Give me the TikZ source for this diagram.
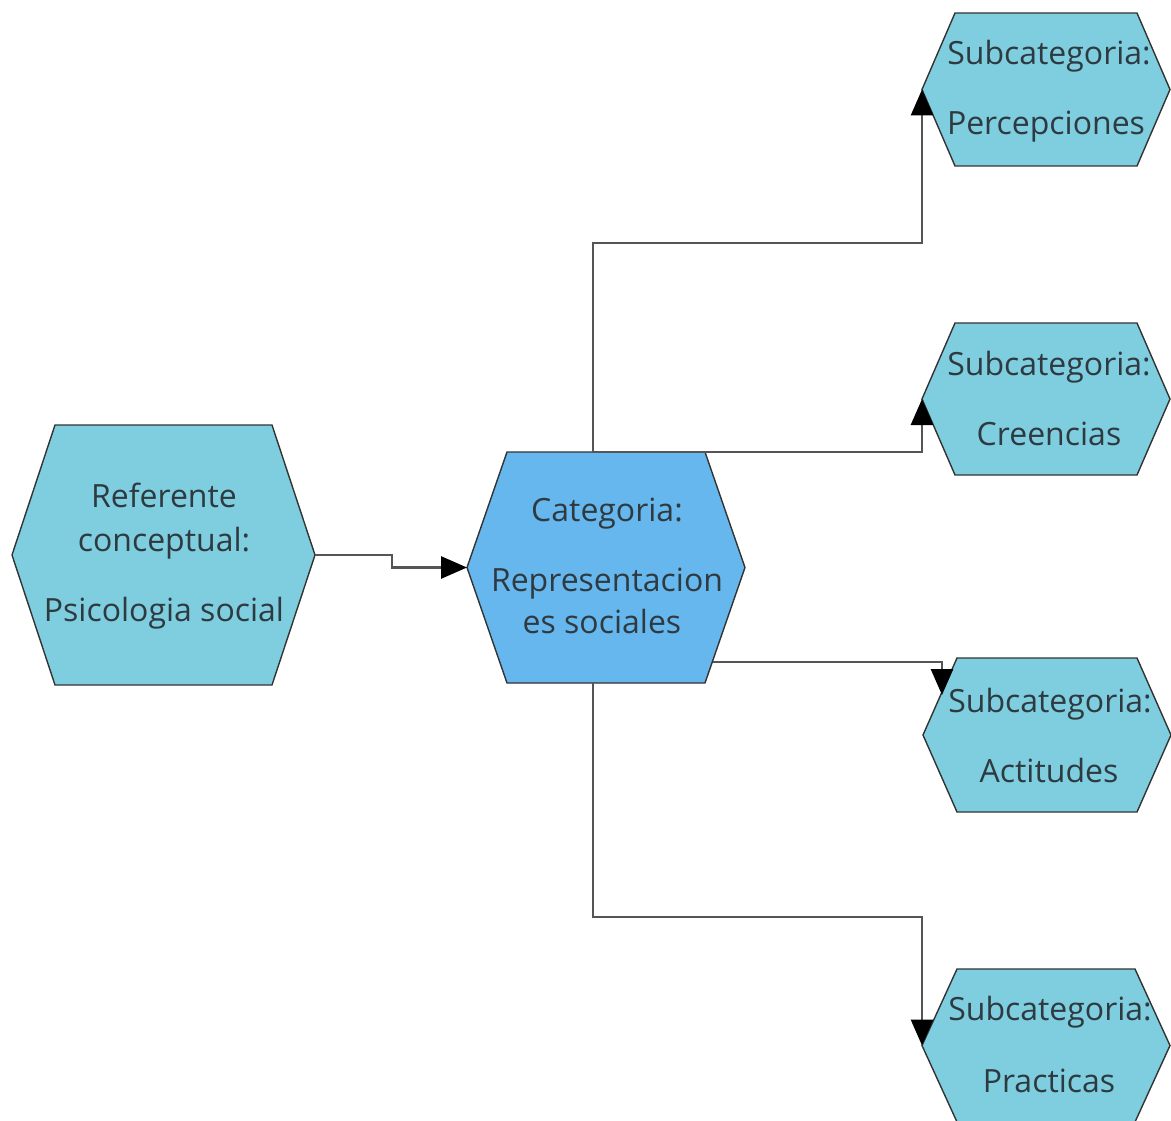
\documentclass[tikz,border=0pt]{standalone}
\usepackage{fontspec}
\setmainfont{Open Sans}
\usetikzlibrary{arrows.meta,calc}
\definecolor{lightc}{HTML}{7ECEE0}
\definecolor{catc}{HTML}{66B7EE}
\definecolor{txtc}{HTML}{2E3A40}
\definecolor{linec}{HTML}{555555}
\begin{document}
\begin{tikzpicture}[x=1pt,y=-1pt,
  box/.style={shape=rectangle,inner sep=0pt,outer sep=0pt},
  hexof/.style 2 args={insert path={(#1.west) -- ([xshift=#2pt]#1.north west) -- ([xshift=-#2pt]#1.north east) -- (#1.east) -- ([xshift=-#2pt]#1.south east) -- ([xshift=#2pt]#1.south west) -- cycle}},
  hexline/.style={draw=black!80,line width=1.4pt,line join=miter},
  txt/.style={anchor=base,inner sep=0pt,text=txtc,font=\fontsize{32}{38}\selectfont},
  conn/.style={draw=linec,line width=2.8pt,-{Triangle[length=26pt,width=22pt,color=black]}}
]
\useasboundingbox (0,0) rectangle (1171,1121);
% hexagon frames
\node[box,minimum width=303pt,minimum height=260pt] (ref) at (163.5,555) {};
\node[box,minimum width=278pt,minimum height=231pt] (cat) at (606,567.5) {};
\node[box,minimum width=248pt,minimum height=153pt] (p) at (1046,89.5) {};
\node[box,minimum width=248pt,minimum height=152pt] (c) at (1046,399) {};
\node[box,minimum width=248pt,minimum height=154pt] (a) at (1047,735) {};
\node[box,minimum width=248pt,minimum height=153pt] (pr) at (1046,1045.5) {};
\path[hexline,fill=lightc,hexof={ref}{43}];
\path[hexline,fill=catc,hexof={cat}{40}];
\path[hexline,fill=lightc,hexof={p}{33}];
\path[hexline,fill=lightc,hexof={c}{33}];
\path[hexline,fill=lightc,hexof={a}{34}];
\path[hexline,fill=lightc,hexof={pr}{35}];
% connectors
\coordinate (aStart) at ($(cat.east)+(-32,94.5)$);
\coordinate (aEnd) at ($(a.west)+(19,-40)$);
\draw[conn] (ref.east) -- ++(77,0) |- (cat.west);
\draw[conn] ([xshift=-13pt]cat.north) -- ++(0,-209) -| (p.west);
\draw[conn] ([xshift=-13pt]cat.north) -| (c.west);
\draw[conn] (aStart) -| (aEnd);
\draw[conn] ([xshift=-13pt]cat.south) -- ++(0,234) -| (pr.west);
% texts
\node[txt] (ref1) at (164,507) {Referente};
\node[txt] (ref2) at (164,551) {conceptual:};
\node[txt] (ref3) at (164,621) {Psicologia social};
\node[txt] (cat1) at (607,521) {Categoria:};
\node[txt] (cat2) at (607,591) {Representacion};
\node[txt] (cat3) at (602,633) {es sociales};
\node[txt] (p1) at (1049,65) {Subcategoria:};
\node[txt] (p2) at (1046,135) {Percepciones};
\node[txt] (c1) at (1049,375) {Subcategoria:};
\node[txt] (c2) at (1049,445) {Creencias};
\node[txt] (a1) at (1050,712) {Subcategoria:};
\node[txt] (a2) at (1049,782) {Actitudes};
\node[txt] (pr1) at (1050,1020) {Subcategoria:};
\node[txt] (pr2) at (1049,1092) {Practicas};
\end{tikzpicture}
\end{document}
